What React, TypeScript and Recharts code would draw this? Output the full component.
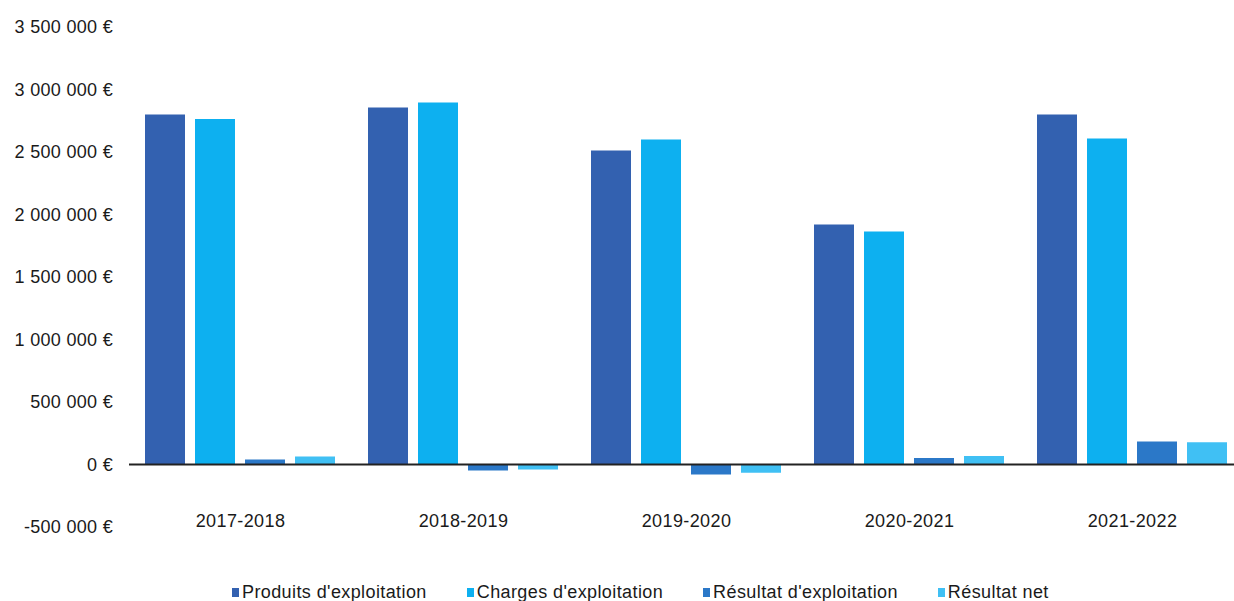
import React from "react";
import {
  BarChart,
  Bar,
  XAxis,
  YAxis,
  ReferenceLine,
  Legend,
} from "recharts";

const years = ["2017-2018", "2018-2019", "2019-2020", "2020-2021", "2021-2022"];
const produits = [2800000, 2856000, 2512000, 1920000, 2800000];
const charges = [2765000, 2896000, 2600000, 1864000, 2608000];
const resultatExpl = [40000, -48000, -80000, 52000, 184000];
const resultatNet = [65000, -40000, -65000, 68000, 178000];
const yTicks = [-500000, 0, 500000, 1000000, 1500000, 2000000, 2500000, 3000000, 3500000];

const series = [
  { key: "produits", name: "Produits d'exploitation", color: "#3361B0" },
  { key: "charges", name: "Charges d'exploitation", color: "#0DB0F0" },
  { key: "resultatExpl", name: "Résultat d'exploitation", color: "#2B78C8" },
  { key: "resultatNet", name: "Résultat net", color: "#40C0F4" },
];

const data = years.map((y, i) => ({
  year: y,
  produits: produits[i],
  charges: charges[i],
  resultatExpl: resultatExpl[i],
  resultatNet: resultatNet[i],
}));

const fmtEuro = (v: number) => {
  const s = Math.abs(v)
    .toString()
    .replace(/\B(?=(\d{3})+(?!\d))/g, " ");
  return (v < 0 ? "-" : "") + s + " €";
};

const font = "'Liberation Sans', Arial, sans-serif";

const CatTick = (props: any) => {
  const { x, y, payload } = props;
  return (
    <text
      x={x}
      y={y - 8}
      textAnchor="middle"
      fill="#1a1a1a"
      fontSize={18}
      letterSpacing={0.4}
      fontFamily={font}
    >
      {payload.value}
    </text>
  );
};

const LegendBox = () => (
  <div
    style={{
      display: "flex",
      paddingLeft: 232,
      fontFamily: font,
      fontSize: 18,
      letterSpacing: 0.4,
      color: "#1a1a1a",
      lineHeight: "20px",
    }}
  >
    {series.map((s) => (
      <div key={s.key} style={{ display: "flex", alignItems: "center", marginRight: 40 }}>
        <span style={{ width: 7, height: 9, background: s.color, marginRight: 3, display: "inline-block" }} />
        <span>{s.name}</span>
      </div>
    ))}
  </div>
);

export default function App() {
  return (
    <div
      style={{
        position: "absolute",
        left: 0,
        top: 0,
        width: 1234,
        height: 601,
        overflow: "hidden",
        background: "#fff",
      }}
    >
      <BarChart
        width={1250}
        height={601}
        data={data}
        margin={{ top: 27, right: 6, left: 0, bottom: 24 }}
        barCategoryGap={16}
        barGap={10}
      >
        <XAxis
          dataKey="year"
          axisLine={false}
          tickLine={false}
          height={30}
          tick={<CatTick />}
        />
        <YAxis
          width={129}
          domain={[-500000, 3500000]}
          ticks={yTicks}
          axisLine={false}
          tickLine={false}
          tickSize={0}
          tickMargin={16}
          interval={0}
          tickFormatter={fmtEuro}
          tick={{ fill: "#1a1a1a", fontSize: 18, letterSpacing: 0.3, fontFamily: font }}
        />
        <ReferenceLine y={0} stroke="#222" strokeWidth={2} />
        {series.map((s) => (
          <Bar
            key={s.key}
            dataKey={s.key}
            name={s.name}
            fill={s.color}
            isAnimationActive={false}
          />
        ))}
        <Legend
          content={<LegendBox />}
          wrapperStyle={{ position: "absolute", left: 0, top: 582, width: 1234 }}
        />
      </BarChart>
    </div>
  );
}
